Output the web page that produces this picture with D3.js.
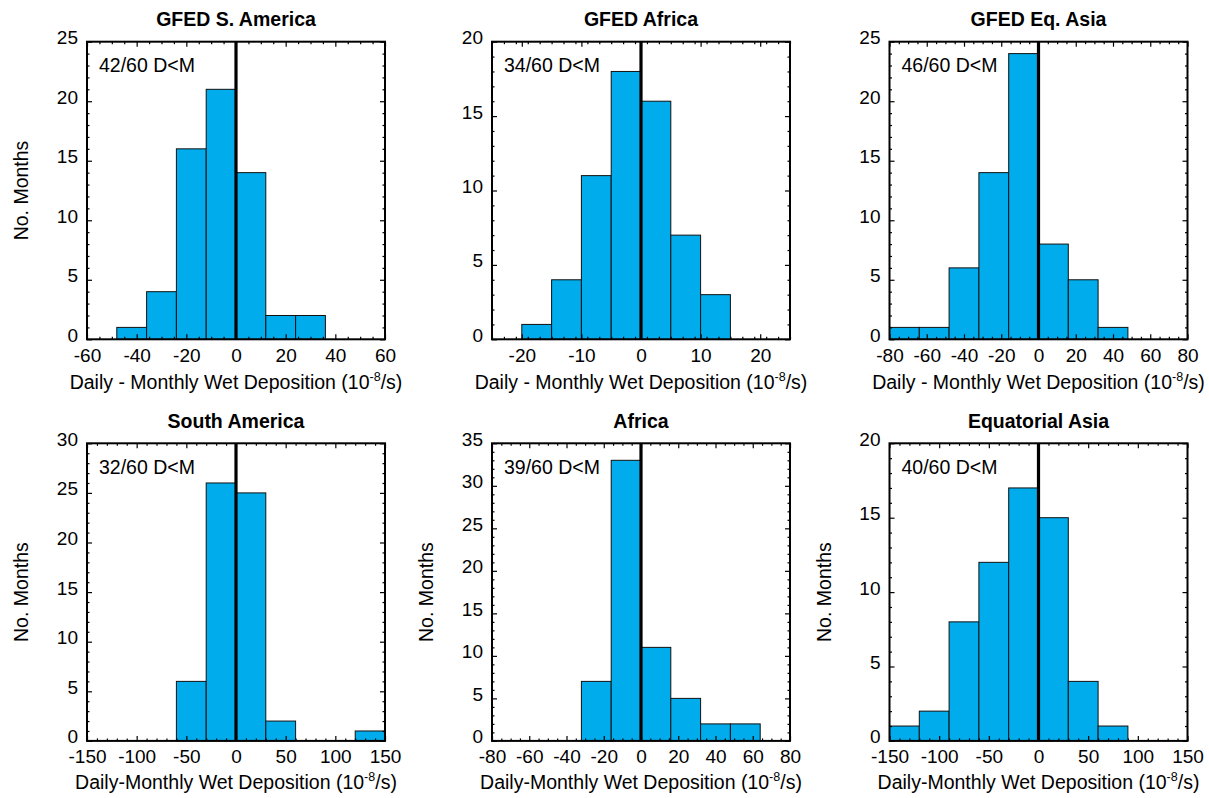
<!DOCTYPE html>
<html>
<head>
<meta charset="utf-8">
<script src="https://cdn.jsdelivr.net/npm/d3@7"></script>
<style>
  body { margin: 0; background: #fff; }
  svg { display: block; }
  text { font-family: "Liberation Sans", Arial, Helvetica, sans-serif; fill: #000; }
</style>
</head>
<body>
<svg id="fig" width="1209" height="798"></svg>
<script>
// Histogram bin edges and counts (number of months) for each region
const gfedSAmericaEdges  = [-48, -36, -24, -12, 0, 12, 24, 36];
const gfedSAmericaCounts = [1, 4, 16, 21, 14, 2, 2];
const gfedAfricaEdges    = [-20, -15, -10, -5, 0, 5, 10, 15];
const gfedAfricaCounts   = [1, 4, 11, 18, 16, 7, 3];
const gfedEqAsiaEdges    = [-80, -64, -48, -32, -16, 0, 16, 32, 48];
const gfedEqAsiaCounts   = [1, 1, 6, 14, 24, 8, 5, 1];
const southAmericaEdges  = [-60, -30, 0, 30, 60, 90, 120, 150];
const southAmericaCounts = [6, 26, 25, 2, 0, 0, 1];
const africaEdges        = [-32, -16, 0, 16, 32, 48, 64];
const africaCounts       = [7, 33, 11, 5, 2, 2];
const eqAsiaEdges        = [-150, -120, -90, -60, -30, 0, 30, 60, 90];
const eqAsiaCounts       = [1, 2, 8, 12, 17, 15, 4, 1];

const titles = ["GFED S. America", "GFED Africa", "GFED Eq. Asia",
                "South America", "Africa", "Equatorial Asia"];
const notes = ["42/60 D<M", "34/60 D<M", "46/60 D<M",
               "32/60 D<M", "39/60 D<M", "40/60 D<M"];
const xDomains = [[-60, 60], [-25, 25], [-80, 80], [-150, 150], [-80, 80], [-150, 150]];
const xMajorTicks = [
  [-60, -40, -20, 0, 20, 40, 60],
  [-20, -10, 0, 10, 20],
  [-80, -60, -40, -20, 0, 20, 40, 60, 80],
  [-150, -100, -50, 0, 50, 100, 150],
  [-80, -60, -40, -20, 0, 20, 40, 60, 80],
  [-150, -100, -50, 0, 50, 100, 150]
];
const xMinorSteps = [5, 2, 5, 10, 5, 10];
const yMaxima = [25, 20, 25, 30, 35, 20];
const xLabelsMain = ["Daily - Monthly Wet Deposition (10", "Daily-Monthly Wet Deposition (10"];
const xLabelExp = "-8";
const xLabelTail = "/s)";
const yLabel = "No. Months";
const showYLabel = [true, false, false, true, true, true];

const edges = [gfedSAmericaEdges, gfedAfricaEdges, gfedEqAsiaEdges,
               southAmericaEdges, africaEdges, eqAsiaEdges];
const counts = [gfedSAmericaCounts, gfedAfricaCounts, gfedEqAsiaCounts,
                southAmericaCounts, africaCounts, eqAsiaCounts];

// Panel geometry
const colLeft = [87, 492, 889.5];
const rowTop = [41.7, 443.3];
const plotW = 298;
const plotH = 297.6;
const barFill = "#00aceb";
const fontSize = 19.5;
const tickFont = 19;

// plain hyphen-minus for negative tick values
const fmt = d => String(d);

const svg = d3.select("#fig");

function range(lo, hi, step) {
  const out = [];
  for (let v = lo; v <= hi + 1e-9; v += step) out.push(+v.toFixed(6));
  return out;
}

titles.forEach((title, i) => {
  const row = Math.floor(i / 3), col = i % 3;
  const left = colLeft[col], top = rowTop[row];
  const x = d3.scaleLinear().domain(xDomains[i]).range([left, left + plotW]);
  const y = d3.scaleLinear().domain([0, yMaxima[i]]).range([top + plotH, top]);
  const g = svg.append("g");

  // bars
  const bins = counts[i].map((c, k) => ({ x0: edges[i][k], x1: edges[i][k + 1], n: c }))
    .filter(d => d.n > 0);
  g.selectAll("rect.bar").data(bins).join("rect")
    .attr("class", "bar")
    .attr("x", d => x(d.x0))
    .attr("width", d => x(d.x1) - x(d.x0))
    .attr("y", d => y(d.n))
    .attr("height", d => y(0) - y(d.n))
    .attr("fill", barFill)
    .attr("stroke", "#111")
    .attr("stroke-width", 1);

  // zero line
  g.append("line")
    .attr("x1", x(0)).attr("x2", x(0))
    .attr("y1", top).attr("y2", top + plotH)
    .attr("stroke", "#000").attr("stroke-width", 3.2);

  // axes with inward ticks on all sides
  const xMinor = range(xDomains[i][0], xDomains[i][1], xMinorSteps[i])
    .filter(v => !xMajorTicks[i].includes(v));
  const yMajor = range(0, yMaxima[i], 5);
  const yMinor = range(0, yMaxima[i], 1).filter(v => v % 5 !== 0);

  function addAxis(axis, transform) {
    const a = g.append("g").attr("transform", transform).call(axis);
    a.select(".domain").remove();
    a.selectAll("line").attr("stroke", "#000").attr("stroke-width", 1.2);
    return a;
  }
  const bottomY = top + plotH;
  const rightX = left + plotW;

  const xb = addAxis(d3.axisBottom(x).tickValues(xMajorTicks[i]).tickSize(-5).tickPadding(9)
    .tickFormat(fmt), `translate(0,${bottomY})`);
  xb.selectAll("text").attr("font-size", tickFont).attr("dy", "0.71em")
    .style("font-family", '"Liberation Sans", Arial, sans-serif');
  addAxis(d3.axisBottom(x).tickValues(xMinor).tickSize(-2.5).tickFormat(""), `translate(0,${bottomY})`);
  addAxis(d3.axisTop(x).tickValues(xMajorTicks[i]).tickSize(-5).tickFormat(""), `translate(0,${top})`);
  addAxis(d3.axisTop(x).tickValues(xMinor).tickSize(-2.5).tickFormat(""), `translate(0,${top})`);

  const yl = addAxis(d3.axisLeft(y).tickValues(yMajor).tickSize(-5).tickPadding(9)
    .tickFormat(fmt), `translate(${left},0)`);
  yl.selectAll("text").attr("font-size", tickFont).attr("dy", "0.1em")
    .style("font-family", '"Liberation Sans", Arial, sans-serif');
  addAxis(d3.axisLeft(y).tickValues(yMinor).tickSize(-2.5).tickFormat(""), `translate(${left},0)`);
  addAxis(d3.axisRight(y).tickValues(yMajor).tickSize(-5).tickFormat(""), `translate(${rightX},0)`);
  addAxis(d3.axisRight(y).tickValues(yMinor).tickSize(-2.5).tickFormat(""), `translate(${rightX},0)`);

  // frame
  g.append("rect")
    .attr("x", left).attr("y", top).attr("width", plotW).attr("height", plotH)
    .attr("fill", "none").attr("stroke", "#000").attr("stroke-width", 2);

  // title
  g.append("text")
    .attr("x", left + plotW / 2).attr("y", top - 15.5)
    .attr("text-anchor", "middle").attr("font-size", fontSize).attr("font-weight", "bold")
    .text(title);

  // annotation
  g.append("text")
    .attr("x", left + 12).attr("y", top + 30.5)
    .attr("font-size", fontSize)
    .text(notes[i]);

  // x-axis label with superscript exponent
  const xl = g.append("text")
    .attr("x", left + plotW / 2).attr("y", bottomY + (row === 0 ? 49.5 : 48.5))
    .attr("text-anchor", "middle").attr("font-size", fontSize);
  xl.append("tspan").text(xLabelsMain[row]);
  xl.append("tspan").attr("font-size", 12.5).attr("dy", -8).text(xLabelExp);
  xl.append("tspan").attr("dy", 8).text(xLabelTail);

  // y-axis label
  if (showYLabel[i]) {
    g.append("text")
      .attr("transform", `translate(${left - 59},${top + plotH / 2}) rotate(-90)`)
      .attr("text-anchor", "middle").attr("font-size", fontSize)
      .text(yLabel);
  }
});
</script>
</body>
</html>
